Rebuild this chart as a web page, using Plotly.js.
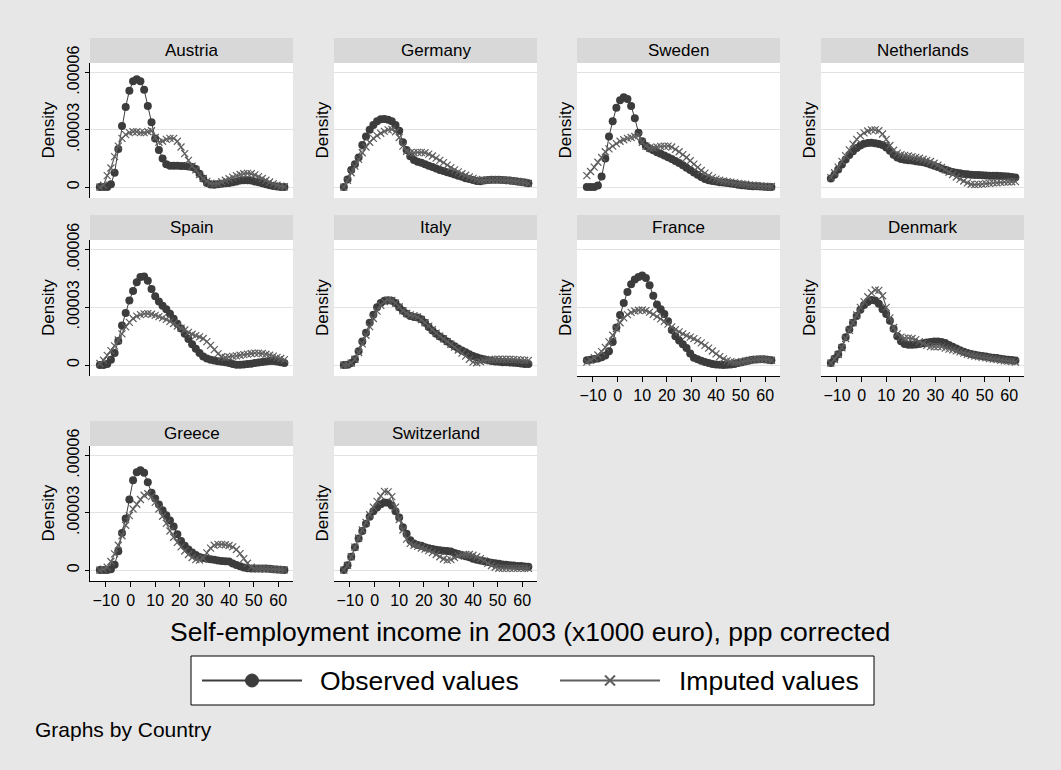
<!DOCTYPE html>
<html>
<head>
<meta charset="utf-8">
<script src="https://cdn.plot.ly/plotly-3.0.1.min.js"></script>
<style>
  html, body { margin: 0; padding: 0; background: #e7e7e7; }
  #chart { width: 1061px; height: 770px; }
</style>
</head>
<body>
<div id="chart"></div>
<script>
// Kernel density of self-employment income (x1000 euro, ppp corrected), by country.
// Density values below are in units of 1e-5.
const income = [-12.5, -11, -9.5, -8, -6.5, -5, -3.5, -2, -0.5, 1, 2.5, 4, 5.5, 7, 8.5, 10, 11.5, 13, 14.5, 16,
  17.5, 19, 20.5, 22, 23.5, 25, 26.5, 28, 29.5, 31, 32.5, 34, 35.5, 37, 38.5, 40, 41.5, 43, 44.5, 46,
  47.5, 49, 50.5, 52, 53.5, 55, 56.5, 58, 59.5, 61, 62.5];

const countries = ["Austria", "Germany", "Sweden", "Netherlands", "Spain", "Italy", "France", "Denmark", "Greece", "Switzerland"];

const austriaObserved = [0, 0, 0, 0.15, 0.75, 2.0, 3.2, 4.2, 5.05, 5.55, 5.65, 5.55, 5.1, 4.25, 3.4, 2.55, 1.95, 1.5, 1.2, 1.12,
  1.12, 1.12, 1.1, 1.1, 1.08, 1.05, 0.95, 0.7, 0.45, 0.22, 0.14, 0.13, 0.15, 0.18, 0.2, 0.22, 0.26, 0.3, 0.34, 0.36,
  0.36, 0.34, 0.3, 0.25, 0.2, 0.15, 0.1, 0.06, 0.03, 0.01, 0];
const austriaImputed = [0, 0.1, 0.6, 1.0, 1.6, 2.15, 2.55, 2.75, 2.85, 2.9, 2.9, 2.85, 2.85, 2.9, 2.95, 2.6, 2.35, 2.4, 2.5, 2.55,
  2.55, 2.4, 2.1, 1.75, 1.4, 1.1, 0.9, 0.65, 0.45, 0.3, 0.2, 0.18, 0.2, 0.28, 0.36, 0.44, 0.52, 0.6, 0.66, 0.7,
  0.72, 0.7, 0.64, 0.55, 0.45, 0.36, 0.27, 0.18, 0.1, 0.05, 0.02];

const germanyObserved = [0, 0.4, 0.9, 1.2, 1.55, 2.2, 2.65, 3.0, 3.25, 3.45, 3.55, 3.57, 3.53, 3.45, 3.25, 2.95, 2.35, 1.95, 1.62, 1.42,
  1.33, 1.27, 1.2, 1.12, 1.05, 0.98, 0.9, 0.85, 0.78, 0.72, 0.66, 0.6, 0.54, 0.47, 0.42, 0.37, 0.32, 0.31, 0.34, 0.37,
  0.38, 0.38, 0.38, 0.37, 0.36, 0.34, 0.32, 0.3, 0.27, 0.24, 0.2];
const germanyImputed = [0, 0.35, 0.75, 1.1, 1.45, 1.8, 2.1, 2.35, 2.55, 2.7, 2.82, 2.92, 3.0, 3.02, 2.9, 2.6, 2.15, 1.88, 1.8, 1.8,
  1.82, 1.82, 1.8, 1.73, 1.63, 1.52, 1.4, 1.28, 1.15, 1.02, 0.9, 0.8, 0.7, 0.62, 0.54, 0.46, 0.4, 0.36, 0.36, 0.37,
  0.38, 0.38, 0.38, 0.37, 0.36, 0.34, 0.32, 0.3, 0.27, 0.24, 0.2];

const swedenObserved = [0, 0, 0, 0.08, 0.55, 1.5, 2.65, 3.45, 4.15, 4.55, 4.7, 4.62, 4.25, 3.6, 2.85, 2.4, 2.15, 2.02, 1.93, 1.83,
  1.75, 1.66, 1.57, 1.47, 1.37, 1.26, 1.14, 1.02, 0.9, 0.77, 0.65, 0.53, 0.43, 0.36, 0.32, 0.29, 0.26, 0.24, 0.21, 0.19,
  0.16, 0.13, 0.1, 0.08, 0.06, 0.05, 0.04, 0.03, 0.02, 0.01, 0];
const swedenImputed = [0.6, 0.82, 1.05, 1.3, 1.55, 1.85, 2.0, 2.15, 2.28, 2.4, 2.48, 2.55, 2.6, 2.65, 2.7, 2.35, 2.15, 2.05, 2.05, 2.1,
  2.13, 2.15, 2.15, 2.1, 1.98, 1.85, 1.7, 1.55, 1.38, 1.2, 1.03, 0.87, 0.73, 0.6, 0.5, 0.42, 0.36, 0.32, 0.29, 0.26,
  0.23, 0.2, 0.17, 0.15, 0.12, 0.1, 0.08, 0.06, 0.05, 0.04, 0.03];

const netherlandsObserved = [0.45, 0.65, 0.92, 1.18, 1.45, 1.68, 1.88, 2.05, 2.18, 2.27, 2.31, 2.32, 2.3, 2.26, 2.2, 2.08, 1.9, 1.7, 1.55, 1.47,
  1.43, 1.41, 1.39, 1.36, 1.33, 1.3, 1.25, 1.19, 1.12, 1.05, 0.98, 0.91, 0.85, 0.79, 0.75, 0.72, 0.69, 0.67, 0.65, 0.64,
  0.63, 0.62, 0.61, 0.6, 0.59, 0.59, 0.58, 0.57, 0.55, 0.53, 0.5];
const netherlandsImputed = [0.5, 0.75, 1.05, 1.35, 1.65, 1.95, 2.25, 2.5, 2.7, 2.84, 2.94, 3.0, 3.0, 2.95, 2.78, 2.5, 2.18, 1.93, 1.78, 1.7,
  1.66, 1.63, 1.6, 1.56, 1.51, 1.46, 1.4, 1.34, 1.25, 1.15, 1.03, 0.9, 0.78, 0.66, 0.53, 0.42, 0.32, 0.22, 0.15, 0.13,
  0.14, 0.16, 0.18, 0.2, 0.22, 0.23, 0.25, 0.26, 0.27, 0.28, 0.29];

const spainObserved = [0, 0, 0.05, 0.28, 0.62, 1.25, 2.05, 2.7, 3.35, 3.85, 4.3, 4.58, 4.6, 4.38, 3.95, 3.58, 3.3, 3.08, 2.9, 2.66,
  2.4, 2.14, 1.9, 1.63, 1.35, 1.08, 0.85, 0.62, 0.45, 0.34, 0.28, 0.24, 0.2, 0.17, 0.14, 0.1, 0.05, 0.02, 0.02, 0.03,
  0.05, 0.07, 0.1, 0.13, 0.16, 0.19, 0.21, 0.21, 0.19, 0.15, 0.1];
const spainImputed = [0.08, 0.25, 0.5, 0.75, 1.0, 1.3, 1.62, 1.98, 2.22, 2.42, 2.54, 2.62, 2.66, 2.67, 2.64, 2.58, 2.52, 2.45, 2.37, 2.27,
  2.16, 2.03, 1.92, 1.82, 1.7, 1.6, 1.53, 1.46, 1.38, 1.22, 1.02, 0.8, 0.58, 0.43, 0.4, 0.42, 0.45, 0.48, 0.51, 0.54,
  0.57, 0.6, 0.62, 0.62, 0.6, 0.56, 0.51, 0.46, 0.4, 0.34, 0.28];

const italyObserved = [0, 0.02, 0.1, 0.3, 0.72, 1.22, 1.68, 2.2, 2.62, 3.0, 3.22, 3.34, 3.37, 3.34, 3.22, 3.0, 2.82, 2.66, 2.55, 2.5,
  2.47, 2.38, 2.2, 1.98, 1.8, 1.62, 1.48, 1.36, 1.22, 1.1, 0.98, 0.86, 0.75, 0.66, 0.56, 0.47, 0.4, 0.34, 0.3, 0.25,
  0.21, 0.19, 0.17, 0.15, 0.14, 0.13, 0.12, 0.1, 0.08, 0.06, 0.05];
const italyImputed = [0, 0.02, 0.1, 0.3, 0.65, 1.1, 1.55, 2.0, 2.42, 2.8, 3.1, 3.3, 3.38, 3.36, 3.22, 3.02, 2.82, 2.68, 2.6, 2.57,
  2.5, 2.36, 2.2, 2.02, 1.84, 1.66, 1.5, 1.36, 1.22, 1.08, 0.93, 0.78, 0.62, 0.46, 0.3, 0.15, 0.12, 0.17, 0.23, 0.27,
  0.29, 0.3, 0.3, 0.3, 0.3, 0.3, 0.29, 0.28, 0.27, 0.25, 0.24];

const franceObserved = [0.25, 0.28, 0.31, 0.34, 0.4, 0.5, 0.72, 1.2, 1.95, 2.6, 3.22, 3.8, 4.2, 4.45, 4.58, 4.66, 4.52, 4.15, 3.6, 3.15,
  2.9, 2.65, 2.28, 1.82, 1.5, 1.28, 1.08, 0.88, 0.6, 0.38, 0.3, 0.22, 0.16, 0.1, 0.06, 0.03, 0.01, 0, 0.01, 0.03,
  0.06, 0.1, 0.15, 0.2, 0.24, 0.27, 0.29, 0.3, 0.3, 0.28, 0.25];
const franceImputed = [0.15, 0.25, 0.38, 0.52, 0.7, 0.92, 1.2, 1.55, 1.9, 2.2, 2.45, 2.62, 2.74, 2.81, 2.85, 2.86, 2.83, 2.75, 2.64, 2.52,
  2.4, 2.27, 2.13, 1.98, 1.84, 1.72, 1.62, 1.53, 1.45, 1.37, 1.27, 1.15, 1.02, 0.88, 0.73, 0.58, 0.44, 0.32, 0.23, 0.17,
  0.14, 0.14, 0.17, 0.21, 0.25, 0.28, 0.3, 0.3, 0.3, 0.28, 0.25];

const denmarkObserved = [0.1, 0.33, 0.56, 0.92, 1.45, 1.85, 2.2, 2.55, 2.88, 3.12, 3.28, 3.38, 3.36, 3.18, 2.9, 2.65, 2.3, 1.88, 1.5, 1.24,
  1.1, 1.05, 1.05, 1.07, 1.1, 1.13, 1.17, 1.2, 1.22, 1.22, 1.2, 1.14, 1.04, 0.95, 0.86, 0.77, 0.69, 0.62, 0.57, 0.53,
  0.5, 0.47, 0.44, 0.41, 0.38, 0.36, 0.33, 0.3, 0.28, 0.26, 0.24];
const denmarkImputed = [0.1, 0.3, 0.55, 0.9, 1.38, 1.8, 2.2, 2.6, 3.0, 3.3, 3.55, 3.75, 3.9, 3.88, 3.6, 3.0, 2.45, 1.95, 1.62, 1.45,
  1.4, 1.4, 1.38, 1.32, 1.22, 1.12, 1.02, 0.96, 0.95, 0.96, 0.94, 0.88, 0.83, 0.79, 0.74, 0.68, 0.62, 0.56, 0.51, 0.47,
  0.44, 0.4, 0.37, 0.34, 0.31, 0.28, 0.25, 0.22, 0.2, 0.18, 0.16];

const greeceObserved = [0, 0, 0, 0.05, 0.28, 0.99, 1.95, 2.7, 3.7, 4.7, 5.12, 5.23, 5.1, 4.6, 4.05, 3.75, 3.43, 3.13, 2.87, 2.6,
  2.28, 1.88, 1.53, 1.27, 1.08, 0.92, 0.79, 0.69, 0.63, 0.6, 0.57, 0.54, 0.51, 0.48, 0.47, 0.45, 0.35, 0.27, 0.2, 0.14,
  0.1, 0.09, 0.09, 0.09, 0.09, 0.08, 0.07, 0.05, 0.03, 0.02, 0.01];
const greeceImputed = [0, 0.05, 0.15, 0.45, 0.85, 1.3, 1.8, 2.35, 2.85, 3.2, 3.45, 3.7, 3.92, 4.0, 3.85, 3.55, 3.2, 2.82, 2.45, 2.05,
  1.72, 1.45, 1.22, 1.0, 0.82, 0.66, 0.55, 0.52, 0.62, 0.9, 1.15, 1.3, 1.35, 1.35, 1.33, 1.29, 1.22, 1.08, 0.86, 0.6,
  0.36, 0.16, 0.08, 0.07, 0.07, 0.06, 0.05, 0.04, 0.03, 0.02, 0.01];

const switzerlandObserved = [0, 0.25, 0.7, 1.2, 1.65, 2.05, 2.43, 2.8, 3.08, 3.28, 3.45, 3.54, 3.53, 3.38, 3.08, 2.75, 2.25, 1.9, 1.56, 1.4,
  1.32, 1.27, 1.2, 1.14, 1.1, 1.07, 1.04, 1.02, 1.0, 0.97, 0.9, 0.84, 0.78, 0.73, 0.67, 0.6, 0.54, 0.5, 0.46, 0.42,
  0.39, 0.36, 0.33, 0.3, 0.28, 0.26, 0.24, 0.22, 0.21, 0.19, 0.17];
const switzerlandImputed = [0, 0.25, 0.7, 1.2, 1.68, 2.1, 2.5, 2.9, 3.3, 3.6, 3.88, 4.12, 4.1, 3.85, 3.3, 2.65, 2.1, 1.62, 1.4, 1.3,
  1.24, 1.16, 1.1, 1.02, 0.92, 0.82, 0.7, 0.58, 0.52, 0.55, 0.65, 0.74, 0.8, 0.82, 0.82, 0.78, 0.7, 0.6, 0.48, 0.35,
  0.24, 0.15, 0.1, 0.09, 0.09, 0.09, 0.09, 0.09, 0.09, 0.09, 0.09];

const observedSeries = [austriaObserved, germanyObserved, swedenObserved, netherlandsObserved, spainObserved,
  italyObserved, franceObserved, denmarkObserved, greeceObserved, switzerlandObserved];
const imputedSeries = [austriaImputed, germanyImputed, swedenImputed, netherlandsImputed, spainImputed,
  italyImputed, franceImputed, denmarkImputed, greeceImputed, switzerlandImputed];

const xTicks = [-10, 0, 10, 20, 30, 40, 50, 60];
const yTicks = [0, 0.00003, 0.00006];
const yTickText = ["0", ".00003", ".00006"];
const seriesNames = ["Observed values", "Imputed values"];
const xTitle = "Self-employment income in 2003 (x1000 euro), ppp corrected";
const noteText = "Graphs by Country";

// ---- page geometry (pixels) ----
const W = 1061, H = 770;
const COLS = [[90, 293], [334, 537], [577, 780], [821, 1024]];
const ROWS = [[63, 198], [240, 376], [446, 581]];
const STRIP_H = 24;
const BOTTOM_PANELS = [6, 7, 8, 9];
const FONT = "Liberation Sans, Arial, Helvetica, sans-serif";
const OBS_COLOR = "#3c3c3c";
const IMP_COLOR = "#5e5e5e";

const fx = px => px / W;
const fy = py => 1 - py / H;
const scale = v => v * 1e-5;

const traces = [];
const layout = {
  width: W, height: H,
  margin: { l: 0, r: 0, t: 0, b: 0 },
  paper_bgcolor: "#e7e7e7",
  plot_bgcolor: "#ffffff",
  showlegend: false,
  font: { family: FONT, color: "#000" },
  shapes: [],
  annotations: []
};

countries.forEach((name, i) => {
  const row = Math.floor(i / 4), col = i % 4;
  const sfx = i === 0 ? "" : String(i + 1);
  const [x0, x1] = COLS[col];
  const [y0, y1] = ROWS[row];
  const isBottom = BOTTOM_PANELS.includes(i);

  traces.push({
    type: "scatter", mode: "lines+markers", name: seriesNames[0],
    x: income, y: observedSeries[i].map(scale),
    xaxis: "x" + sfx, yaxis: "y" + sfx,
    line: { color: OBS_COLOR, width: 1 },
    marker: { symbol: "circle", size: 8, color: OBS_COLOR },
    hoverinfo: "skip"
  });
  traces.push({
    type: "scatter", mode: "lines+markers", name: seriesNames[1],
    x: income, y: imputedSeries[i].map(scale),
    xaxis: "x" + sfx, yaxis: "y" + sfx,
    line: { color: IMP_COLOR, width: 1.2 },
    marker: { symbol: "x-thin", size: 7, line: { color: IMP_COLOR, width: 1.2 } },
    hoverinfo: "skip"
  });

  layout["xaxis" + sfx] = {
    domain: [fx(x0), fx(x1)], anchor: "y" + sfx,
    range: [-16.5, 66], fixedrange: true,
    showgrid: false, zeroline: false,
    showline: isBottom, linecolor: "#000", linewidth: 1,
    ticks: isBottom ? "outside" : "", ticklen: 5, tickcolor: "#000",
    tickvals: xTicks, showticklabels: isBottom,
    tickfont: { size: 16, color: "#000", family: FONT }
  };
  layout["yaxis" + sfx] = {
    domain: [fy(y1), fy(y0)], anchor: "x" + sfx,
    range: [-0.57e-5, 6.5e-5], fixedrange: true,
    showgrid: true, gridcolor: "#e2e2e2", gridwidth: 1, zeroline: false,
    tickvals: yTicks, ticktext: yTickText,
    showticklabels: col === 0, tickangle: -90,
    ticks: col === 0 ? "outside" : "", ticklen: 4, tickcolor: "#000",
    showline: col === 0, linecolor: "#000", linewidth: 1,
    tickfont: { size: 16, color: "#000", family: FONT }
  };

  // panel header strip
  layout.shapes.push({
    type: "rect", xref: "paper", yref: "paper", layer: "below",
    x0: fx(x0), x1: fx(x1), y0: fy(y0), y1: fy(y0 - STRIP_H - 1),
    fillcolor: "#d8d8d8", line: { width: 0 }
  });
  layout.annotations.push({
    xref: "paper", yref: "paper", x: fx((x0 + x1) / 2), y: fy(y0 - STRIP_H / 2 - 0.5),
    text: name, showarrow: false, xanchor: "center", yanchor: "middle",
    font: { size: 17, color: "#000", family: FONT }
  });
  // y-axis title
  layout.annotations.push({
    xref: "paper", yref: "paper",
    x: fx(col === 0 ? x0 - 42 : x0 - 12), y: fy((y0 + y1) / 2),
    text: "Density", textangle: -90, showarrow: false,
    xanchor: "center", yanchor: "middle",
    font: { size: 17, color: "#000", family: FONT }
  });
});

// common x-axis title and note
layout.annotations.push({
  xref: "paper", yref: "paper", x: fx(530), y: fy(632),
  text: xTitle, showarrow: false, xanchor: "center", yanchor: "middle",
  font: { size: 26.5, color: "#000", family: FONT }
});
layout.annotations.push({
  xref: "paper", yref: "paper", x: fx(33), y: fy(729),
  text: noteText, showarrow: false, xanchor: "left", yanchor: "middle",
  font: { size: 21, color: "#000", family: FONT }
});

// legend box
const LEG = { x0: 191, x1: 874, y0: 656, y1: 705 };
const legY = (LEG.y0 + LEG.y1) / 2;
layout.shapes.push({
  type: "rect", xref: "paper", yref: "paper",
  x0: fx(LEG.x0), x1: fx(LEG.x1), y0: fy(LEG.y1), y1: fy(LEG.y0),
  fillcolor: "#ffffff", line: { color: "#000", width: 1 }
});
const legendItems = [
  { name: seriesNames[0], lx0: 202, lx1: 302, tx: 318, color: OBS_COLOR, sym: "circle" },
  { name: seriesNames[1], lx0: 560, lx1: 660, tx: 677, color: IMP_COLOR, sym: "x" }
];
legendItems.forEach(it => {
  layout.shapes.push({
    type: "line", xref: "paper", yref: "paper",
    x0: fx(it.lx0), x1: fx(it.lx1), y0: fy(legY), y1: fy(legY),
    line: { color: it.color, width: 2 }
  });
  const cx = (it.lx0 + it.lx1) / 2;
  if (it.sym === "circle") {
    layout.shapes.push({
      type: "circle", xref: "paper", yref: "paper",
      xsizemode: "pixel", ysizemode: "pixel",
      xanchor: fx(cx), yanchor: fy(legY),
      x0: -6.5, x1: 6.5, y0: -6.5, y1: 6.5,
      fillcolor: it.color, line: { color: it.color, width: 1 }
    });
  } else {
    [[-5, -5, 5, 5], [-5, 5, 5, -5]].forEach(([a, b, c, d]) => {
      layout.shapes.push({
        type: "line", xref: "paper", yref: "paper",
        xsizemode: "pixel", ysizemode: "pixel",
        xanchor: fx(cx), yanchor: fy(legY),
        x0: a, y0: b, x1: c, y1: d,
        line: { color: it.color, width: 2 }
      });
    });
  }
  layout.annotations.push({
    xref: "paper", yref: "paper", x: fx(it.tx), y: fy(legY),
    text: it.name, showarrow: false, xanchor: "left", yanchor: "middle",
    font: { size: 26.5, color: "#000", family: FONT }
  });
});

Plotly.newPlot("chart", traces, layout, { staticPlot: true, displayModeBar: false });
</script>
</body>
</html>
